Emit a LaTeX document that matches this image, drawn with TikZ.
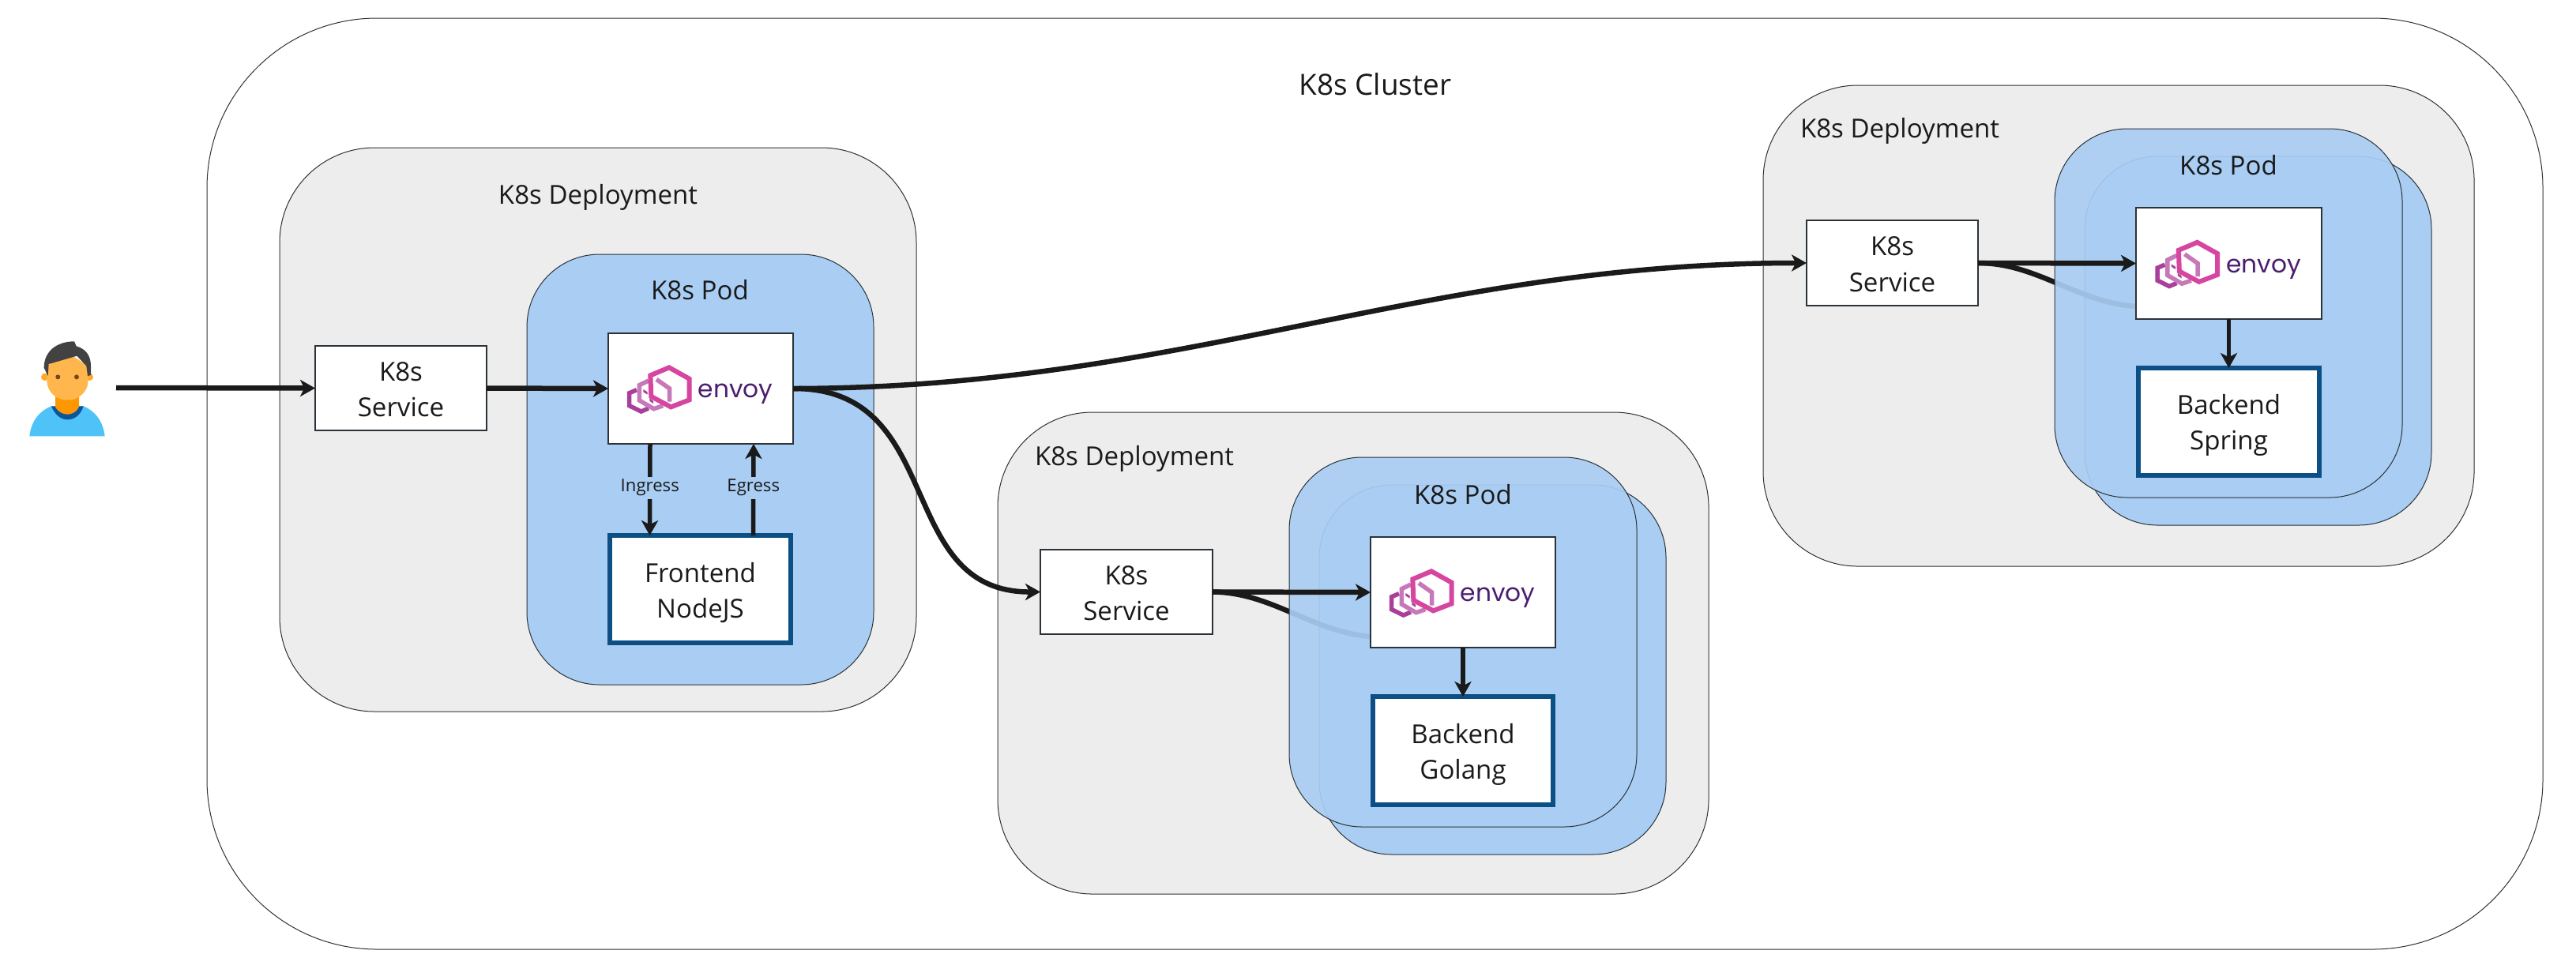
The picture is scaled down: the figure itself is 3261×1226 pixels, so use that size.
\documentclass[tikz,border=0pt]{standalone}
\usepackage{fontspec}
\setmainfont{Open Sans}
\newfontfamily\envoyfont{Poppins}
\usetikzlibrary{arrows.meta}
\newdimen\pxu \pxu=0.01cm
\definecolor{depfill}{HTML}{EDEDED}
\definecolor{podfill}{HTML}{A9CDF3}
\definecolor{edgeink}{HTML}{2B3238}
\definecolor{appblue}{HTML}{0B4F85}
\definecolor{arrowink}{HTML}{1A1A1A}
\definecolor{logopink}{HTML}{D6459F}
\definecolor{logomid}{HTML}{C678B8}
\definecolor{logodark}{HTML}{A8409B}
\definecolor{logotext}{HTML}{4B1F6F}
\tikzset{
  clusterbox/.style={draw=edgeink,line width=1\pxu,fill=white,rounded corners=215\pxu},
  deploybox/.style={draw=edgeink,line width=1\pxu,fill=depfill,rounded corners=120\pxu},
  podbox/.style={draw=edgeink,line width=1\pxu,fill=podfill,rounded corners=92\pxu},
  podfront/.style={podbox,fill opacity=.92},
  svcbox/.style={draw=edgeink,line width=2.5\pxu,fill=white,align=center,text=arrowink,font=\fontsize{9.4pt}{12.9pt}\selectfont},
  appbox/.style={draw=appblue,line width=6\pxu,fill=white,align=center,text=arrowink,font=\fontsize{9.4pt}{12.9pt}\selectfont},
  lbl/.style={text=arrowink,font=\fontsize{9.4pt}{12pt}\selectfont,inner sep=0pt},
  small/.style={text=arrowink,fill=podfill,font=\fontsize{6.3pt}{8pt}\selectfont,inner sep=1pt,minimum height=28\pxu},
  flow/.style={draw=arrowink,line width=6.5\pxu,-{Stealth[length=5.4pt,width=6pt,inset=1.5pt]}},
  thinflow/.style={draw=arrowink,line width=5.5\pxu,-{Stealth[length=5.4pt,width=6pt,inset=1.5pt]}},
  backflow/.style={draw=arrowink,line width=6.5\pxu},
  envoylogo/.pic={
    \begin{scope}[x=0.01cm/3,y=-0.01cm/3,shift={(-498,-275)},line join=miter]
      \draw[logodark,line width=5.5\pxu] (300,350) -- (272,362) -- (227,340) -- (227,292) -- (255,280);
      \draw[logomid,line width=5.5\pxu] (355,340) -- (320,352) -- (265,320) -- (265,262) -- (300,245);
      \fill[logodark] (280,278) -- (296,288) -- (296,298) -- (280,288) -- cycle;
      \fill[logodark] (304,312) -- (318,322) -- (318,332) -- (304,322) -- cycle;
      \draw[logomid,line width=5.5\pxu] (330,240) -- (380,275) -- (380,325);
      \draw[logopink,line width=6\pxu] (378,195) -- (455,238) -- (455,318) -- (385,345) -- (310,305) -- (307,225) -- cycle;
      \node[text=logotext,font=\envoyfont\fontsize{8.9pt}{10pt}\selectfont,inner sep=0pt,anchor=base] (-word) at (630,310) {envoy};
    \end{scope}
  }
}
% name, style, x1, y1, x2, y2, text
\newcommand\placebox[7]{%
  \pgfmathsetmacro\bcx{(#3+#5)/2}\pgfmathsetmacro\bcy{(#4+#6)/2}%
  \pgfmathsetmacro\bw{#5-#3}\pgfmathsetmacro\bh{#6-#4}%
  \node[#2,inner sep=0pt,outer sep=0pt,minimum width=\bw\pxu,minimum height=\bh\pxu] (#1) at (\bcx,\bcy) {#7};}
\newcommand\svcstrut{\rule{0pt}{7.7pt}}
\newcommand\appstrut{\rule{0pt}{9.8pt}}
\begin{document}
\begin{tikzpicture}[x=0.01cm,y=-0.01cm]
\useasboundingbox (0,0) rectangle (3261,1226);
\fill[white] (0,0) rectangle (3261,1226);

% containers
\placebox{cluster}{clusterbox}{262}{23}{3219}{1202}{}
\placebox{dep1}{deploybox}{354}{187}{1160}{901}{}
\placebox{dep2}{deploybox}{1263}{522}{2163}{1132}{}
\placebox{dep3}{deploybox}{2232}{108}{3132}{717}{}
\placebox{pod1}{podbox}{667}{322}{1106}{867}{}

% backends' pods
\placebox{pod2b}{podbox}{1670}{614}{2109}{1082}{}
\placebox{pod3b}{podbox}{2639}{198}{3078}{665}{}

% boxes needed for the hidden connectors
\placebox{svc2}{svcbox}{1317}{696}{1535}{803}{\svcstrut K8s\\Service}
\placebox{svc3}{svcbox}{2287}{279}{2504}{387}{\svcstrut K8s\\Service}
\coordinate (hid2) at (1735,806);
\coordinate (hid3) at (2704,388);
\draw[backflow] (svc2.east) .. controls (1610,750) and (1660,800) .. (hid2);
\draw[backflow] (svc3.east) .. controls (2579,333) and (2629,383) .. (hid3);

\placebox{pod2f}{podfront}{1632}{579}{2072}{1047}{}
\placebox{pod3f}{podfront}{2601}{163}{3041}{630}{}

% labels
\node[lbl,font=\fontsize{10.5pt}{13pt}\selectfont] (tcluster) at (1741,107) {K8s Cluster};
\node[lbl] (tdep1) at (757,250) {K8s Deployment};
\node[lbl] (tdep2) at (1436,581) {K8s Deployment};
\node[lbl] (tdep3) at (2405,166) {K8s Deployment};
\node[lbl] (tpod1) at (886,367) {K8s Pod};
\node[lbl] (tpod2) at (1852,626) {K8s Pod};
\node[lbl] (tpod3) at (2821,209) {K8s Pod};

% boxes
\placebox{svc1}{svcbox}{399}{438}{616}{545}{\svcstrut K8s\\Service}
\placebox{env1}{svcbox}{770}{422}{1004}{562}{}
\placebox{env2}{svcbox}{1735}{680}{1969}{820}{}
\placebox{env3}{svcbox}{2704}{263}{2939}{404}{}
\placebox{fe}{appbox}{772}{678}{1001}{814}{\appstrut Frontend\\NodeJS}
\placebox{golang}{appbox}{1738}{882}{1966}{1019}{\appstrut Backend\\Golang}
\placebox{spring}{appbox}{2707}{466}{2936}{602}{\appstrut Backend\\Spring}
\pic (logoa) at (env1.center) {envoylogo};
\pic (logob) at (env2.center) {envoylogo};
\pic (logoc) at (env3.center) {envoylogo};

% user
\begin{scope}[x=0.01cm/3,y=-0.01cm/3,shift={(0,1200)}]
  \fill[color={rgb,255:red,79;green,195;blue,247}] (112,457) .. controls (118,400) and (150,360) .. (195,343) -- (317,343) .. controls (360,360) and (392,400) .. (398,457) -- cycle;
  \fill[color={rgb,255:red,13;green,85;blue,155}] (195,343) .. controls (210,380) and (235,394) .. (256,394) .. controls (280,394) and (305,380) .. (317,343) -- cycle;
  \fill[color={rgb,255:red,255;green,152;blue,0}] (210,300) -- (210,345) .. controls (220,365) and (240,374) .. (256,374) .. controls (272,374) and (292,365) .. (300,345) -- (300,300) -- cycle;
  \fill[color={rgb,255:red,255;green,167;blue,38}] (170,232) circle[radius=14] (340,232) circle[radius=14];
  \fill[color={rgb,255:red,255;green,183;blue,77}] (178,190) -- (178,245) .. controls (178,290) and (215,320) .. (256,320) .. controls (297,320) and (335,290) .. (335,245) -- (335,190) -- (256,140) -- cycle;
  \fill[color={rgb,255:red,66;green,66;blue,66}] (182,228) -- (167,197) .. controls (167,135) and (215,97) .. (282,97) -- (290,115) .. controls (325,125) and (345,150) .. (345,190) -- (345,225) -- (333,228) -- (328,190) -- (292,152) -- (185,183) -- cycle;
  \fill[color={rgb,255:red,120;green,71;blue,25}] (220,232) circle[radius=9] (291,232) circle[radius=9];
\end{scope}
\coordinate (usr) at (147,491);

% connectors
\draw[flow] (usr) -- (svc1.west);
\draw[flow] (svc1.east) -- (env1.west);
\draw[flow] (env1.east) .. controls (1200,491) and (1130,750) .. (svc2.west);
\draw[flow] (env1.east) .. controls (1500,491) and (1800,333) .. (svc3.west);
\draw[flow] (svc2.east) -- (env2.west);
\draw[flow] (svc3.east) -- (env3.west);
\draw[thinflow] (env2.south) -- (golang.north);
\draw[thinflow] (env3.south) -- (spring.north);
\draw[thinflow] ([xshift=-64\pxu]env1.south) -- node[small,pos=.48] (ting) {Ingress} ([xshift=-64\pxu]fe.north);
\draw[thinflow] ([xshift=67\pxu]fe.north) -- node[small,pos=.52] (tegr) {Egress} ([xshift=67\pxu]env1.south);
\end{tikzpicture}
\end{document}
